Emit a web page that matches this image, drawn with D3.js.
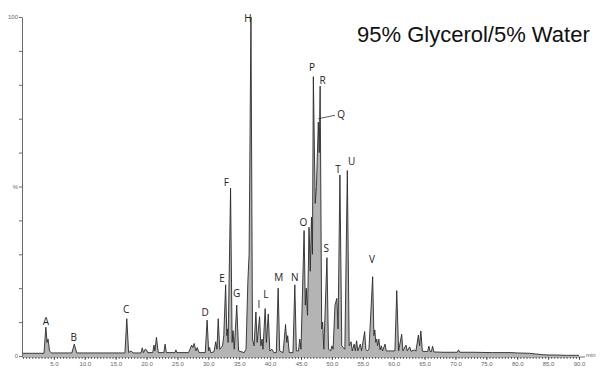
<!DOCTYPE html>
<html lang="en">
<head>
    <meta charset="UTF-8">
    <title>95% Glycerol/5% Water chromatogram</title>
    <script src="https://d3js.org/d3.v7.min.js"></script>
    <style>
        body { margin: 0; background: #fff; }
        svg { display: block; }
        .axis path, .axis line { stroke: #444; stroke-width: 0.8px; }
        .axis text { fill: #666; font-family: "Liberation Sans", Arial, sans-serif; font-size: 6px; }
        .peak-label { font-family: "Open Sans", "Liberation Sans", sans-serif; font-size: 10px; fill: #222; }
        .title { font-family: "Liberation Sans", Arial, sans-serif; font-size: 22px; fill: #111; }
    </style>
</head>
<body>
<script>
    // trace points [retention time (min), relative intensity (%)]
    const traceEarly = [
        [0.0, 0.8], [3.4, 0.8], [3.7, 8.5], [3.9, 4], [4.05, 5], [4.3, 1.5], [4.6, 0.9],
        [7.9, 0.9], [8.3, 3.5], [8.7, 0.9], [16.5, 0.9], [16.8, 11], [17.1, 1], [17.5, 1.5], [17.8, 0.9],
        [19.1, 0.9], [19.3, 2.4], [19.5, 1], [19.8, 2], [20.0, 1.8], [20.2, 1], [21.0, 1], [21.2, 3.2],
        [21.35, 1.5], [21.6, 5.5], [21.9, 1], [22.8, 1], [23.0, 3.5], [23.2, 1], [24.6, 1], [24.75, 1.8],
        [24.9, 1], [26.8, 1], [27.3, 3.2], [27.5, 2.5], [27.7, 3.7], [28.0, 1.5], [28.2, 2.5], [28.5, 1]
    ];
    const traceMid = [
        [29.5, 1], [29.8, 10.6], [30.05, 1.5], [30.2, 2.5], [30.4, 1], [30.9, 1.2], [31.2, 4.2], [31.4, 2],
        [31.6, 11], [31.85, 2], [32.3, 3], [32.5, 6], [32.8, 21], [33.0, 6], [33.1, 8], [33.2, 4],
        [33.6, 49.5], [33.85, 4], [34.0, 7.5], [34.2, 2], [34.6, 15], [34.9, 1.5], [35.8, 1],
        [36.1, 2], [36.4, 22], [36.6, 30], [36.9, 100], [37.15, 5], [37.4, 3], [37.7, 13], [37.9, 4],
        [38.0, 6], [38.3, 11.6], [38.5, 3], [38.7, 5], [38.85, 2], [39.2, 14], [39.4, 4], [39.7, 12.4],
        [39.95, 1.5], [40.3, 2], [40.6, 1], [41.0, 1], [41.3, 20], [41.55, 1.5], [42.1, 1], [42.5, 9.3],
        [42.7, 4], [42.85, 6], [43.1, 1], [43.7, 1], [44.0, 21], [44.25, 1.5]
    ];
    const traceCluster = [
        [44.6, 1.5], [44.8, 5], [45.0, 2], [45.5, 37], [45.7, 15], [45.85, 20], [46.05, 12], [46.3, 38],
        [46.5, 25], [46.7, 41], [46.85, 30], [47.0, 82.4], [47.3, 45], [47.5, 50], [47.8, 69], [47.95, 60],
        [48.1, 79.6], [48.35, 8], [48.5, 10], [48.7, 2], [49.2, 29], [49.45, 2], [49.8, 1.5], [50.0, 3],
        [50.2, 2], [50.5, 15], [50.8, 17], [51.0, 8], [51.3, 53.4], [51.6, 3], [52.1, 2], [52.5, 54.7],
        [52.8, 3]
    ];
    const traceLate = [
        [53.1, 4.2], [53.3, 1.5], [53.6, 3.5], [53.8, 1.5], [54.0, 4.5], [54.2, 1.5], [54.6, 3.5],
        [54.8, 1.5], [55.3, 7.2], [55.5, 2], [55.7, 1.5], [56.0, 2], [56.6, 23.4], [56.8, 6], [56.95, 7.7],
        [57.1, 4], [57.25, 5], [57.4, 3], [57.6, 5], [57.8, 1.8], [58.0, 3], [58.2, 1.5], [58.6, 3.5],
        [58.8, 1.5], [60.2, 1.5], [60.5, 19.3], [60.8, 1.5], [61.3, 6.4], [61.5, 1.5], [62.0, 3.2],
        [62.2, 1.5], [62.6, 2.7], [62.8, 1.4], [63.4, 1.8], [63.6, 1.4], [64.0, 6.2], [64.2, 3],
        [64.4, 7.4], [64.65, 1.4], [65.5, 1.3], [65.7, 2.9], [65.9, 1.3], [66.1, 1.3], [66.3, 2.9], [66.5, 1.2]
    ];
    const traceTail = [
        [68, 1.1], [70.3, 1.1], [70.5, 1.8], [70.7, 1.1], [73, 1.1], [76, 1.0], [79, 1], [80, 0.9],
        [82, 0.8], [83, 0.6], [84, 0.4], [85, 0.3], [86, 0.3], [88, 0.2], [90, 0.2]
    ];

    // peak letters with where each letter sits [letter, time, intensity]
    const peakLabels = [
        ["A", 3.7, 9], ["B", 8.2, 4.4], ["C", 16.7, 12.6], ["D", 29.5, 11.8], ["E", 32.2, 21.8],
        ["F", 32.9, 50.2], ["G", 34.6, 17.4], ["H", 36.4, 98.5], ["I", 38.2, 14.2], ["L", 39.3, 17.1],
        ["M", 41.4, 22.1], ["N", 44.0, 22.1], ["O", 45.4, 38.3], ["P", 46.8, 84.1], ["R", 48.5, 80.2],
        ["Q", 51.5, 70.2], ["S", 49.1, 30.7], ["T", 51.0, 54.0], ["U", 53.2, 56.3], ["V", 56.5, 27.4]
    ];
    const qLeader = [[47.8, 70.0], [50.5, 71.0]];

    const xTicks = d3.range(5, 90.1, 5);
    const xMinorTicks = d3.range(0, 90.1, 0.5);
    const yTicks = d3.range(0, 100.1, 10);
    const titleText = "95% Glycerol/5% Water";

    const width = 600, height = 371;
    const svg = d3.select("body").append("svg")
        .attr("width", width)
        .attr("height", height);

    const x = d3.scaleLinear().domain([0, 90]).range([23, 579]);
    const y = d3.scaleLinear().domain([0, 100]).range([356, 17]);

    const trace = [].concat(traceEarly, traceMid, traceCluster, traceLate, traceTail);

    // filled peaks
    svg.append("path")
        .datum(trace)
        .attr("fill", "#b4b4b4")
        .attr("d", d3.area().x(d => x(d[0])).y0(y(0)).y1(d => y(d[1])));

    svg.append("path")
        .datum(trace)
        .attr("fill", "none")
        .attr("stroke", "#2a2a2a")
        .attr("stroke-width", 0.9)
        .attr("stroke-linejoin", "miter")
        .attr("d", d3.line().x(d => x(d[0])).y(d => y(d[1])));

    // axes
    svg.append("g")
        .attr("class", "axis")
        .attr("transform", `translate(0,${y(0) + 1})`)
        .call(d3.axisBottom(x).tickValues(xMinorTicks).tickSize(2).tickFormat("").tickSizeOuter(0))
        .call(g => g.select(".domain").attr("d", `M22,0H585`));

    svg.append("g")
        .attr("class", "axis")
        .attr("transform", `translate(0,${y(0) + 1})`)
        .call(d3.axisBottom(x).tickValues(xTicks).tickSize(3).tickPadding(2).tickFormat(d3.format(".1f")))
        .call(g => g.select(".domain").remove());

    svg.append("text")
        .attr("x", 586).attr("y", y(0) + 1)
        .attr("fill", "#666")
        .style("font-family", "Liberation Sans, Arial, sans-serif")
        .style("font-size", "6px")
        .text("min");

    svg.append("g")
        .attr("class", "axis")
        .attr("transform", `translate(22,0)`)
        .call(d3.axisLeft(y).tickValues(yTicks).tickSize(3).tickPadding(1).tickSizeOuter(0)
            .tickFormat(d => d === 100 ? "100" : d === 50 ? "%" : d === 0 ? "0" : ""));

    // peak letters
    svg.append("g")
        .selectAll("text")
        .data(peakLabels)
        .join("text")
        .attr("class", "peak-label")
        .attr("text-anchor", "middle")
        .attr("x", d => x(d[1]))
        .attr("y", d => y(d[2]))
        .text(d => d[0]);

    svg.append("path")
        .datum(qLeader)
        .attr("fill", "none")
        .attr("stroke", "#333")
        .attr("stroke-width", 0.8)
        .attr("d", d3.line().x(d => x(d[0])).y(d => y(d[1])));

    svg.append("text")
        .attr("class", "title")
        .attr("x", 357).attr("y", 42)
        .text(titleText);
</script>
</body>
</html>
